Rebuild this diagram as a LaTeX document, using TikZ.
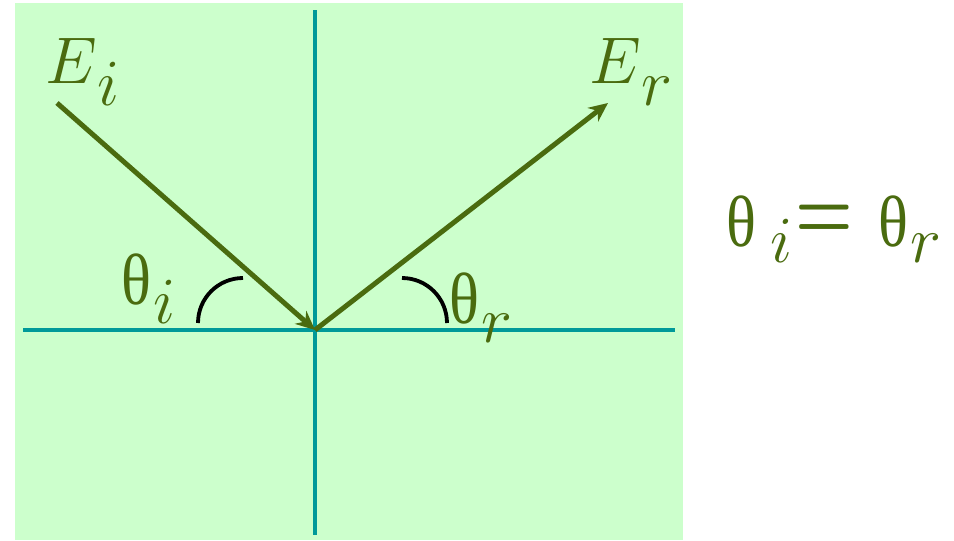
\documentclass[tikz,border=0pt]{standalone}
\usepackage{fontspec}
\usepackage{graphicx}
\usetikzlibrary{arrows.meta,positioning}
\newfontfamily\grk{Liberation Serif}
\definecolor{pgreen}{HTML}{CCFFCC}
\definecolor{dteal}{HTML}{009999}
\definecolor{dolive}{HTML}{4A6B0F}
\newcommand{\uth}{\scalebox{0.86}[1]{\grk\fontsize{19}{20}\selectfont θ}}
\newcommand{\lowsub}[2][6pt]{\raisebox{-#1}{$#2$}}
\tikzset{
  axis/.style={draw=dteal,line width=1pt},
  ray/.style={-{Stealth[length=5pt,width=4.5pt]},dolive,line width=1.3pt},
  ang/.style={black,line width=1pt},
  lbl/.style={text=dolive,font=\LARGE,inner sep=0pt,anchor=base west},
}
\begin{document}
\begin{tikzpicture}[x=0.262pt,y=0.262pt]
\useasboundingbox (0,0) rectangle (954,540);
\fill[pgreen] (15,0) rectangle (683,537);
% axes
\coordinate (O) at (315,210);
\coordinate (N) at (315,530);
\coordinate (S) at (315,5);
\coordinate (W) at (23,210);
\coordinate (Ea) at (675,210);
\draw[axis] (N) -- (S) (W) -- (Ea);
% rays
\coordinate (in) at (57,437);
\coordinate (out) at (608,437);
\draw[ray] (in) -- (O);
\draw[ray] (O) -- (out);
% angle marks
\draw[ang] (198,217) arc[start angle=180,end angle=90,radius=45];
\draw[ang] (402,262) arc[start angle=90,end angle=0,radius=45];
% labels
\node[lbl] (Ei) at (45,457) {$E$\lowsub{i}};
\node[lbl] (Er) at (589,457) {$E$\lowsub{r}};
\node[lbl] (thi) at (121,236) {\uth\hspace{0.5pt}\lowsub[5.2pt]{i}};
\node[lbl] (thr) at (449,217) {\uth\hspace{0.5pt}\lowsub[5.2pt]{r}};
\node[lbl] (eq) at (726,294) {\uth\hspace{3.5pt}\lowsub[4.2pt]{i}\hspace{1pt}%
  \raisebox{1.8pt}{\scalebox{1.0}[1.35]{\boldmath$=$}}\hspace{6.5pt}\uth\hspace{0.5pt}\lowsub[4.2pt]{r}};
\end{tikzpicture}
\end{document}
